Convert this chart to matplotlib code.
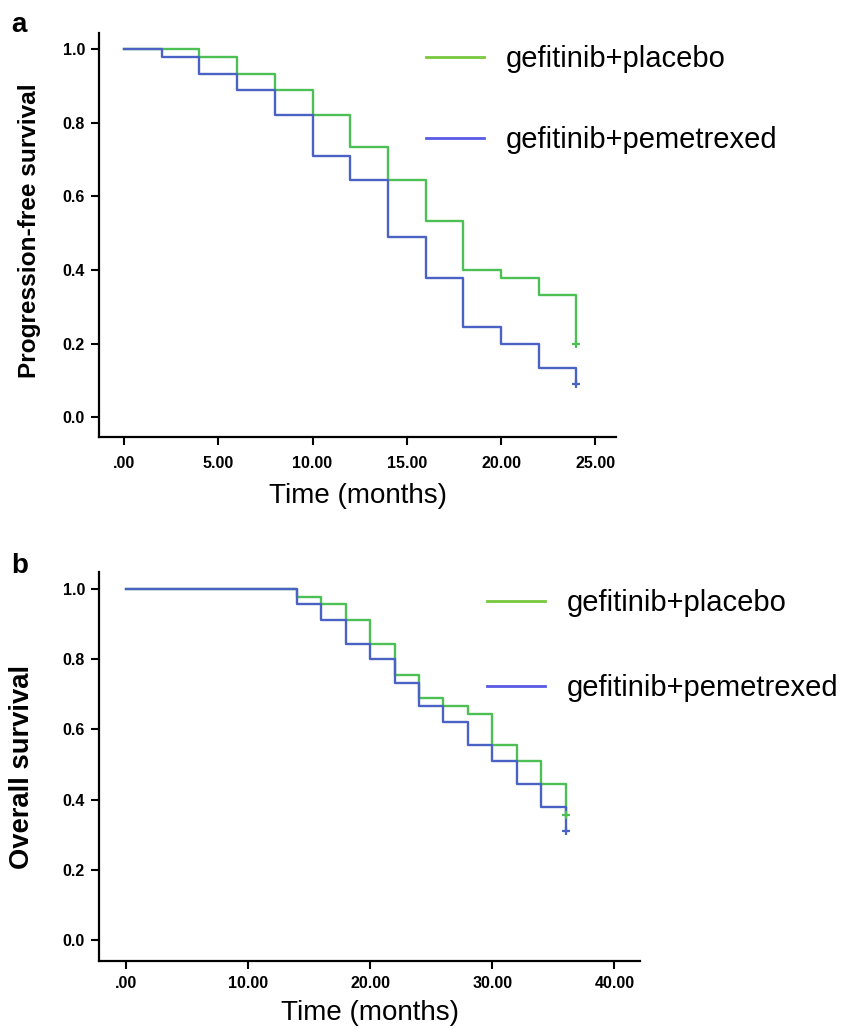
import matplotlib
matplotlib.use("Agg")
import matplotlib.pyplot as plt
from matplotlib.lines import Line2D

plt.rcParams['font.family'] = ['Liberation Sans', 'DejaVu Sans']

# Panel a: progression-free survival (step times in months)
pfs_time = [0, 2, 4, 6, 8, 10, 12, 14, 16, 18, 20, 22, 24]
pfs_placebo = [1.0, 1.0, 0.978, 0.933, 0.889, 0.822, 0.733, 0.644, 0.533, 0.400, 0.378, 0.333, 0.200]
pfs_pemetrexed = [1.0, 0.978, 0.933, 0.889, 0.822, 0.711, 0.644, 0.489, 0.378, 0.244, 0.200, 0.133, 0.089]

# Panel b: overall survival
os_time = [0, 14, 16, 18, 20, 22, 24, 26, 28, 30, 32, 34, 36]
os_placebo = [1.0, 0.978, 0.956, 0.911, 0.844, 0.756, 0.689, 0.667, 0.644, 0.556, 0.511, 0.444, 0.356]
os_pemetrexed = [1.0, 0.956, 0.911, 0.844, 0.800, 0.733, 0.667, 0.622, 0.556, 0.511, 0.444, 0.378, 0.311]

labels = ["gefitinib+placebo", "gefitinib+pemetrexed"]
yticks = [0.0, 0.2, 0.4, 0.6, 0.8, 1.0]
ytick_labels = ["0.0", "0.2", "0.4", "0.6", "0.8", "1.0"]
xticks_a = [0, 5, 10, 15, 20, 25]
xtick_labels_a = [".00", "5.00", "10.00", "15.00", "20.00", "25.00"]
xticks_b = [0, 10, 20, 30, 40]
xtick_labels_b = [".00", "10.00", "20.00", "30.00", "40.00"]

green = "#4cbf55"
blue = "#4a62c4"
leg_green = "#78c840"
leg_blue = "#5a5ae6"

W, H = 846, 1029
fig = plt.figure(figsize=(W / 100, H / 100), dpi=100)

# axes boxes in pixel terms -> figure fractions
ax_a = fig.add_axes([99 / W, 1 - 437 / H, (616 - 99) / W, (437 - 33) / H])
ax_b = fig.add_axes([99 / W, 1 - 961 / H, (640 - 99) / W, (961 - 572) / H])


def km_panel(ax, t, s1, s2, xticks, xlabels, xlim, ylim, xpad, lpad):
    ax.step(t, s1, where='post', color=green, lw=1.7)
    ax.step(t, s2, where='post', color=blue, lw=1.7)
    # censor marks at the last time point
    ax.plot(t[-1], s1[-1], marker='+', color=green, ms=6, mew=1.6)
    ax.plot(t[-1], s2[-1], marker='+', color=blue, ms=6, mew=1.6)
    ax.set_xlim(*xlim)
    ax.set_ylim(*ylim)
    ax.set_xticks(xticks)
    ax.set_xticklabels(xlabels)
    ax.set_yticks(yticks)
    ax.set_yticklabels(ytick_labels)
    for side in ['top', 'right']:
        ax.spines[side].set_visible(False)
    for side in ['left', 'bottom']:
        ax.spines[side].set_linewidth(1.6)
    ax.tick_params(direction='out', length=6, width=1.5, labelsize=11.5, pad=4)
    ax.tick_params(axis='x', pad=xpad)
    for lab in ax.get_xticklabels() + ax.get_yticklabels():
        lab.set_fontweight('bold')
    ax.set_xlabel("Time (months)", fontsize=20, labelpad=lpad)
    return ax


km_panel(ax_a, pfs_time, pfs_placebo, pfs_pemetrexed, xticks_a, xtick_labels_a,
         (-1.33, 26.1), (-0.054, 1.044), 8, 8)
km_panel(ax_b, os_time, os_placebo, os_pemetrexed, xticks_b, xtick_labels_b,
         (-2.2, 42.1), (-0.06, 1.048), 5, 6)

ax_a.set_ylabel("Progression-free survival", fontsize=17.6, fontweight='bold')
ax_a.yaxis.set_label_coords(-0.112, 0.51)
ax_b.set_ylabel("Overall survival", fontsize=19.7, fontweight='bold')
ax_b.yaxis.set_label_coords(-0.118, 0.5)

handles = [Line2D([], [], color=leg_green, lw=2), Line2D([], [], color=leg_blue, lw=2)]
ax_a.legend(handles, labels, loc='upper left', bbox_to_anchor=(0.632, 0.97),
            frameon=False, fontsize=21, handlelength=2.0, handletextpad=0.75,
            labelspacing=1.83, borderpad=0, borderaxespad=0)
ax_b.legend(handles, labels, loc='upper left', bbox_to_anchor=(0.717, 0.957),
            frameon=False, fontsize=21, handlelength=2.0, handletextpad=0.75,
            labelspacing=1.98, borderpad=0, borderaxespad=0)

fig.text(11 / W, 1 - 32 / H, "a", fontsize=20, fontweight='bold', va='baseline')
fig.text(11 / W, 1 - 573 / H, "b", fontsize=20, fontweight='bold', va='baseline')

fig.savefig("out.png", dpi=100)
